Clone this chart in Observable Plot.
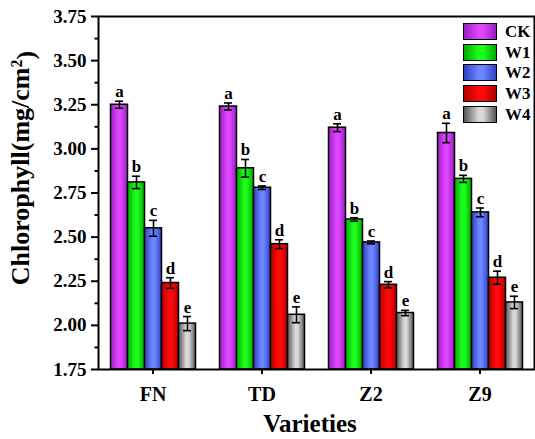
<!DOCTYPE html>
<html>
<head>
<meta charset="utf-8">
<script src="https://cdn.jsdelivr.net/npm/d3@7"></script>
<script src="https://cdn.jsdelivr.net/npm/@observablehq/plot@0.6"></script>
<style>
  body { margin: 0; background: #fff; }
  #chart { position: relative; width: 535px; height: 439px; font-family: "Liberation Serif", "Times New Roman", serif; font-weight: bold; }
  #chart svg { display: block; }
  .legend { position: absolute; left: 463px; top: 21px; }
  .legend .row { display: flex; align-items: center; height: 20.7px; }
  .legend .sw { width: 32px; height: 15px; border: 1.6px solid #000; margin-right: 8px; }
  .legend .lab { font-size: 17px; line-height: 1; }
</style>
</head>
<body>
<div id="chart"></div>
<script>
// Chlorophyll content (mg/cm²) by variety and water treatment
const varieties = ["FN", "TD", "Z2", "Z9"];
const treatments = ["CK", "W1", "W2", "W3", "W4"];

const ckMean = [3.25, 3.24, 3.12, 3.09];
const w1Mean = [2.81, 2.89, 2.60, 2.83];
const w2Mean = [2.55, 2.78, 2.47, 2.64];
const w3Mean = [2.24, 2.46, 2.23, 2.27];
const w4Mean = [2.01, 2.06, 2.07, 2.13];

const ckErr = [0.02, 0.02, 0.022, 0.055];
const w1Err = [0.035, 0.05, 0.01, 0.02];
const w2Err = [0.045, 0.01, 0.008, 0.025];
const w3Err = [0.03, 0.025, 0.018, 0.037];
const w4Err = [0.04, 0.045, 0.015, 0.035];

const ckSig = ["a", "a", "a", "a"];
const w1Sig = ["b", "b", "b", "b"];
const w2Sig = ["c", "c", "c", "c"];
const w3Sig = ["d", "d", "d", "d"];
const w4Sig = ["e", "e", "e", "e"];

const yTicks = [1.75, 2.00, 2.25, 2.50, 2.75, 3.00, 3.25, 3.50, 3.75];
const yMinorTicks = [1.875, 2.125, 2.375, 2.625, 2.875, 3.125, 3.375, 3.625];
const yDomain = [1.75, 3.75];

// bar shading: [edge, centre] per treatment
const shades = {
  CK: ["#9a1ec2", "#de45ff"],
  W1: ["#00a800", "#1cff1c"],
  W2: ["#2f3fc0", "#6c86ff"],
  W3: ["#b00000", "#ff0a0a"],
  W4: ["#555555", "#d8d8d8"]
};

const series = [
  [ckMean, ckErr, ckSig],
  [w1Mean, w1Err, w1Sig],
  [w2Mean, w2Err, w2Sig],
  [w3Mean, w3Err, w3Sig],
  [w4Mean, w4Err, w4Sig]
];

const rows = [];
varieties.forEach((v, i) => {
  treatments.forEach((t, j) => {
    const [m, e, s] = series[j];
    rows.push({variety: v, treatment: t, value: m[i], err: e[i], letter: s[i]});
  });
});

const font = "Liberation Serif, Times New Roman, serif";

const chart = Plot.plot({
  width: 535,
  height: 439,
  marginTop: 16,
  marginBottom: 70,
  marginLeft: 97.5,
  marginRight: 11,
  style: {fontFamily: font, fontWeight: "bold", background: "#fff", color: "#000", overflow: "visible"},
  fx: {domain: varieties, range: [97.5, 535], paddingInner: 0, paddingOuter: 0, label: null},
  x: {domain: treatments, paddingInner: 0, paddingOuter: 0.6, axis: null},
  y: {domain: yDomain, label: null},
  color: {domain: treatments, range: treatments.map(t => `url(#shade-${t})`)},
  marks: [
    Plot.barY(rows, {fx: "variety", x: "treatment", y1: yDomain[0], y2: "value", fill: "treatment", stroke: "#000", strokeWidth: 1.5}),
    Plot.ruleX(rows, {fx: "variety", x: "treatment", y1: d => d.value - d.err, y2: d => d.value + d.err, stroke: "#000", strokeWidth: 1.6}),
    Plot.tickY(rows, {fx: "variety", x: "treatment", y: d => d.value + d.err, insetLeft: 4.5, insetRight: 4.5, stroke: "#000", strokeWidth: 1.6}),
    Plot.tickY(rows, {fx: "variety", x: "treatment", y: d => d.value - d.err, insetLeft: 4.5, insetRight: 4.5, stroke: "#000", strokeWidth: 1.6}),
    Plot.text(rows, {fx: "variety", x: "treatment", y: d => d.value + d.err, text: "letter", dy: -4, lineAnchor: "bottom", fontSize: 17, fontWeight: "bold", fill: "#000"}),
    Plot.axisY({ticks: yTicks, tickFormat: d => d.toFixed(2), tickSize: 7, tickPadding: 5, strokeWidth: 2, fontSize: 19, label: null}),
    Plot.axisY({ticks: yMinorTicks, tickFormat: () => "", tickSize: 3.5, strokeWidth: 2, label: null}),
    Plot.axisFx({anchor: "bottom", tickSize: 5, tickPadding: 12, strokeWidth: 2, fontSize: 20, label: null}),
    Plot.frame({facet: "super", stroke: "#000", strokeWidth: 2})
  ]
});

const svg = d3.select(chart);

// horizontal cylinder-style shading for the bars
const defs = svg.insert("defs", ":first-child");
treatments.forEach(t => {
  const [edge, mid] = shades[t];
  const g = defs.append("linearGradient").attr("id", `shade-${t}`).attr("x1", 0).attr("x2", 1).attr("y1", 0).attr("y2", 0);
  g.append("stop").attr("offset", "0%").attr("stop-color", edge);
  g.append("stop").attr("offset", "45%").attr("stop-color", mid);
  g.append("stop").attr("offset", "60%").attr("stop-color", mid);
  g.append("stop").attr("offset", "100%").attr("stop-color", edge);
});

// axis titles
const yTitle = svg.append("text")
  .attr("transform", "translate(29,168) rotate(-90)")
  .attr("text-anchor", "middle")
  .attr("font-family", font)
  .attr("font-weight", "bold")
  .attr("font-size", 26)
  .attr("fill", "#000");
yTitle.append("tspan").text("Chlorophyll(mg/cm");
yTitle.append("tspan").attr("dy", "-0.45em").attr("font-size", 16).text("2");
yTitle.append("tspan").attr("dy", "0.45em").text(")");

svg.append("text")
  .attr("x", 310)
  .attr("y", 432)
  .attr("text-anchor", "middle")
  .attr("font-family", font)
  .attr("font-weight", "bold")
  .attr("font-size", 25)
  .attr("fill", "#000")
  .text("Varieties");

const root = document.getElementById("chart");
root.appendChild(chart);

// legend
const legend = document.createElement("div");
legend.className = "legend";
treatments.forEach(t => {
  const [edge, mid] = shades[t];
  const row = document.createElement("div");
  row.className = "row";
  const sw = document.createElement("div");
  sw.className = "sw";
  sw.style.background = `linear-gradient(to right, ${edge} 0%, ${mid} 45%, ${mid} 60%, ${edge} 100%)`;
  const lab = document.createElement("span");
  lab.className = "lab";
  lab.textContent = t;
  row.appendChild(sw);
  row.appendChild(lab);
  legend.appendChild(row);
});
root.appendChild(legend);
</script>
</body>
</html>
